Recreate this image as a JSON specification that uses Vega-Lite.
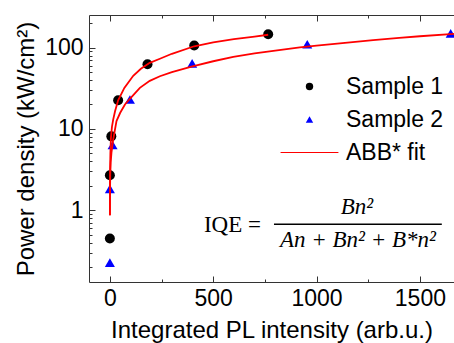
{
  "$schema": "https://vega.github.io/schema/vega-lite/v6.json",
  "autosize": {"type": "none"},
  "padding": {"left": 89, "top": 15, "right": 0, "bottom": 61},
  "width": 365,
  "height": 267,
  "background": "white",
  "config": {
    "view": {"stroke": null},
    "font": "Liberation Sans",
    "axis": {
      "domainColor": "#333333",
      "tickColor": "#333333",
      "labelColor": "#000000",
      "titleColor": "#000000",
      "labelFont": "Liberation Sans",
      "titleFont": "Liberation Sans",
      "labelFontSize": 23,
      "titleFontSize": 24,
      "titleFontWeight": "normal",
      "grid": false,
      "tickSize": -6,
      "tickWidth": 1,
      "domainWidth": 1
    }
  },
  "datasets": {
    "points": [
      {"I": 0, "P": 0.45, "series": "Sample 1"},
      {"I": 0, "P": 2.7, "series": "Sample 1"},
      {"I": 7, "P": 8.1, "series": "Sample 1"},
      {"I": 40, "P": 22.5, "series": "Sample 1"},
      {"I": 182, "P": 62.5, "series": "Sample 1"},
      {"I": 408, "P": 106, "series": "Sample 1"},
      {"I": 766, "P": 146, "series": "Sample 1"},
      {"I": 0, "P": 0.227, "series": "Sample 2"},
      {"I": 0, "P": 1.83, "series": "Sample 2"},
      {"I": 13, "P": 6.35, "series": "Sample 2"},
      {"I": 97, "P": 23, "series": "Sample 2"},
      {"I": 398, "P": 64, "series": "Sample 2"},
      {"I": 955, "P": 110, "series": "Sample 2"},
      {"I": 1649, "P": 150, "series": "Sample 2"}
    ],
    "fits": [
      {"I": 0.08, "P": 0.87, "curve": "fit 1"},
      {"I": 0.3, "P": 1.7, "curve": "fit 1"},
      {"I": 1, "P": 3.1, "curve": "fit 1"},
      {"I": 2.5, "P": 5.0, "curve": "fit 1"},
      {"I": 5, "P": 7.6, "curve": "fit 1"},
      {"I": 10, "P": 10.6, "curve": "fit 1"},
      {"I": 16, "P": 13, "curve": "fit 1"},
      {"I": 25, "P": 16.5, "curve": "fit 1"},
      {"I": 40, "P": 22.5, "curve": "fit 1"},
      {"I": 70, "P": 32, "curve": "fit 1"},
      {"I": 113, "P": 45, "curve": "fit 1"},
      {"I": 150, "P": 55, "curve": "fit 1"},
      {"I": 193, "P": 65, "curve": "fit 1"},
      {"I": 242, "P": 73, "curve": "fit 1"},
      {"I": 300, "P": 84, "curve": "fit 1"},
      {"I": 408, "P": 104, "curve": "fit 1"},
      {"I": 500, "P": 116, "curve": "fit 1"},
      {"I": 600, "P": 127, "curve": "fit 1"},
      {"I": 700, "P": 137, "curve": "fit 1"},
      {"I": 766, "P": 144, "curve": "fit 1"},
      {"I": 0.2, "P": 0.87, "curve": "fit 2"},
      {"I": 0.5, "P": 1.35, "curve": "fit 2"},
      {"I": 1, "P": 1.95, "curve": "fit 2"},
      {"I": 2, "P": 2.75, "curve": "fit 2"},
      {"I": 4, "P": 3.9, "curve": "fit 2"},
      {"I": 8, "P": 5.2, "curve": "fit 2"},
      {"I": 16, "P": 7.4, "curve": "fit 2"},
      {"I": 32, "P": 12.5, "curve": "fit 2"},
      {"I": 50, "P": 15.8, "curve": "fit 2"},
      {"I": 73, "P": 20, "curve": "fit 2"},
      {"I": 100, "P": 24, "curve": "fit 2"},
      {"I": 145, "P": 32, "curve": "fit 2"},
      {"I": 193, "P": 39, "curve": "fit 2"},
      {"I": 242, "P": 44.5, "curve": "fit 2"},
      {"I": 300, "P": 50, "curve": "fit 2"},
      {"I": 395, "P": 58.5, "curve": "fit 2"},
      {"I": 500, "P": 68, "curve": "fit 2"},
      {"I": 597, "P": 77, "curve": "fit 2"},
      {"I": 700, "P": 85, "curve": "fit 2"},
      {"I": 800, "P": 92, "curve": "fit 2"},
      {"I": 919, "P": 101, "curve": "fit 2"},
      {"I": 1000, "P": 106, "curve": "fit 2"},
      {"I": 1100, "P": 112, "curve": "fit 2"},
      {"I": 1274, "P": 124, "curve": "fit 2"},
      {"I": 1400, "P": 132, "curve": "fit 2"},
      {"I": 1500, "P": 138, "curve": "fit 2"},
      {"I": 1665, "P": 148, "curve": "fit 2"}
    ],
    "formula": [
      {"part": "lhs", "text": "IQE ="},
      {"part": "num", "text": "Bn²"},
      {"part": "den", "text": "An + Bn² + B*n²"}
    ]
  },
  "resolve": {"scale": {"x": "shared", "y": "shared"}, "axis": {"x": "independent", "y": "shared"}},
  "layer": [
    {
      "data": {"name": "points"},
      "mark": {"type": "point", "filled": true, "size": 100, "opacity": 1, "strokeWidth": 1},
      "encoding": {
        "x": {
          "field": "I", "type": "quantitative",
          "scale": {"domain": [-101, 1665], "nice": false, "zero": false},
          "axis": {
            "orient": "bottom",
            "title": "Integrated PL intensity (arb.u.)",
            "values": [0, 250, 500, 750, 1000, 1250, 1500],
            "format": "d",
            "labelExpr": "datum.value % 500 === 0 ? datum.label : ''",
            "tickDash": {"condition": {"test": "datum.value % 500 !== 0", "value": [3, 20]}, "value": [20, 0]},
            "labelPadding": 11,
            "titlePadding": 8
          }
        },
        "y": {
          "field": "P", "type": "quantitative",
          "scale": {"type": "log", "domain": [0.131, 252], "nice": false},
          "axis": {
            "orient": "left",
            "title": "Power density (kW/cm²)",
            "values": [0.2, 0.3, 0.4, 0.5, 0.6, 0.7, 0.8, 0.9, 1, 2, 3, 4, 5, 6, 7, 8, 9, 10, 20, 30, 40, 50, 60, 70, 80, 90, 100, 200],
            "format": "d",
            "labelExpr": "(datum.value === 1 || datum.value === 10 || datum.value === 100) ? datum.label : ''",
            "tickDash": {"condition": {"test": "datum.value !== 1 && datum.value !== 10 && datum.value !== 100", "value": [3, 20]}, "value": [20, 0]},
            "labelPadding": 12,
            "titlePadding": 6
          }
        },
        "color": {
          "field": "series", "type": "nominal",
          "scale": {"domain": ["Sample 1", "Sample 2", "ABB* fit"], "range": ["#000000", "#0000ff", "#ff0000"]},
          "legend": {
            "title": null,
            "orient": "none",
            "legendX": 209,
            "legendY": 60,
            "labelFont": "Liberation Sans",
            "labelFontSize": 23,
            "labelColor": "#000000",
            "symbolSize": 55,
            "labelOffset": 25,
            "rowPadding": 9,
            "symbolStrokeWidth": 1
          }
        },
        "stroke": {
          "field": "series", "type": "nominal",
          "scale": {"domain": ["Sample 1", "Sample 2", "ABB* fit"], "range": ["transparent", "transparent", "#ff0000"]},
          "legend": {"title": null}
        },
        "shape": {
          "field": "series", "type": "nominal",
          "scale": {"domain": ["Sample 1", "Sample 2", "ABB* fit"], "range": ["circle", "triangle-up", "M-7.8,0L7.8,0"]},
          "legend": {"title": null}
        }
      }
    },
    {
      "data": {"name": "fits"},
      "mark": {"type": "line", "color": "#ff0000", "strokeWidth": 1.8, "clip": true},
      "encoding": {
        "x": {
          "field": "I", "type": "quantitative",
          "axis": {
            "orient": "top",
            "title": null,
            "labels": false,
            "values": [0, 250, 500, 750, 1000, 1250, 1500],
            "tickDash": {"condition": {"test": "datum.value % 500 !== 0", "value": [3, 20]}, "value": [20, 0]}
          }
        },
        "y": {"field": "P", "type": "quantitative"},
        "detail": {"field": "curve"}
      }
    },
    {
      "data": {"name": "formula"},
      "transform": [{"filter": "datum.part === 'lhs'"}],
      "mark": {"type": "text", "font": "Liberation Serif", "fontSize": 23, "align": "center", "baseline": "middle", "color": "#000000"},
      "encoding": {
        "x": {"datum": 593, "type": "quantitative", "axis": null},
        "y": {"datum": 0.66, "type": "quantitative"},
        "text": {"field": "text"}
      }
    },
    {
      "data": {"name": "formula"},
      "transform": [{"filter": "datum.part === 'num'"}],
      "mark": {"type": "text", "font": "Liberation Serif", "fontStyle": "italic", "fontSize": 23, "align": "center", "baseline": "middle", "color": "#000000"},
      "encoding": {
        "x": {"datum": 1195, "type": "quantitative", "axis": null},
        "y": {"datum": 1.098, "type": "quantitative"},
        "text": {"field": "text"}
      }
    },
    {
      "data": {"name": "formula"},
      "transform": [{"filter": "datum.part === 'den'"}],
      "mark": {"type": "text", "font": "Liberation Serif", "fontStyle": "italic", "fontSize": 23, "align": "center", "baseline": "middle", "color": "#000000"},
      "encoding": {
        "x": {"datum": 1200, "type": "quantitative", "axis": null},
        "y": {"datum": 0.431, "type": "quantitative"},
        "text": {"field": "text"}
      }
    },
    {
      "data": {"values": [{"a": 1}]},
      "mark": {"type": "rule", "color": "#000000", "strokeWidth": 1.5},
      "encoding": {
        "x": {"datum": 794, "type": "quantitative", "axis": null},
        "x2": {"datum": 1606},
        "y": {"datum": 0.673, "type": "quantitative"}
      }
    }
  ]
}
